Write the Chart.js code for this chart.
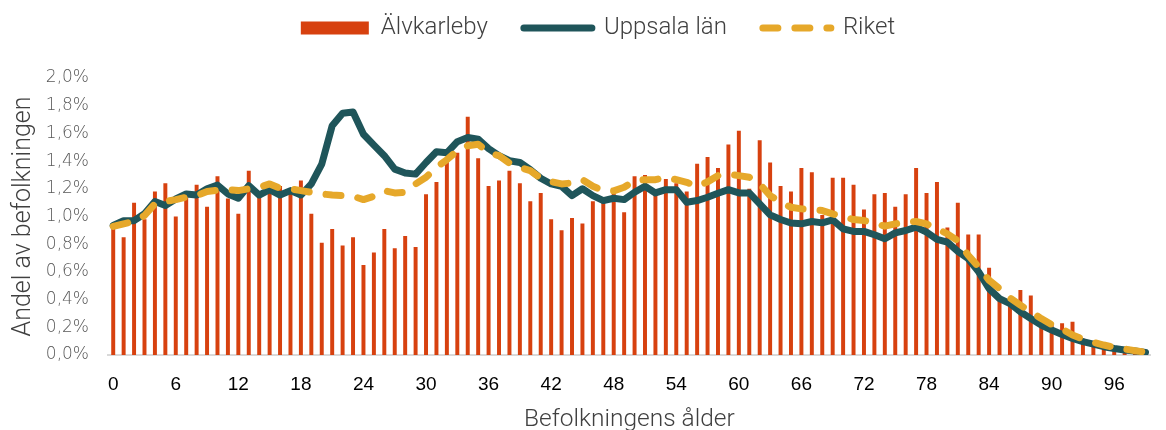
<!DOCTYPE html>
<html>
<head>
<meta charset="utf-8">
<script src="https://cdn.jsdelivr.net/npm/chart.js@4"></script>
<style>
  html, body { margin: 0; padding: 0; background: #ffffff; overflow: hidden; }
  #wrap { width: 1166px; height: 430px; }
</style>
</head>
<body>
<div id="wrap"><canvas id="c" width="1166" height="430"></canvas></div>
<script>
// Ages 0..99
const ages = Array.from({length: 100}, (_, i) => String(i));

// Älvkarleby – share of population (%) per age
const alvkarleby = [
  0.92, 0.85, 1.10, 0.98, 1.18, 1.24, 1.00, 1.14, 1.23, 1.07,
  1.29, 1.13, 1.02, 1.33, 1.18, 1.18, 1.22, 1.18, 1.26, 1.02,
  0.81, 0.91, 0.79, 0.85, 0.65, 0.74, 0.91, 0.77, 0.86, 0.78,
  1.16, 1.25, 1.43, 1.46, 1.72, 1.42, 1.22, 1.26, 1.33, 1.24,
  1.11, 1.17, 0.98, 0.90, 0.99, 0.95, 1.11, 1.11, 1.18, 1.03,
  1.29, 1.30, 1.16, 1.27, 1.24, 1.18, 1.38, 1.43, 1.35, 1.52,
  1.62, 1.20, 1.55, 1.39, 1.22, 1.18, 1.35, 1.32, 1.01, 1.28,
  1.28, 1.23, 1.05, 1.16, 1.17, 1.07, 1.16, 1.35, 1.17, 1.25,
  0.92, 1.10, 0.87, 0.87, 0.63, 0.42, 0.37, 0.47, 0.43, 0.28,
  0.22, 0.23, 0.24, 0.12, 0.06, 0.05, 0.04, 0.02, 0.01, 0.01
];

// Uppsala län
const uppsala = [
  0.935, 0.97, 0.97, 1.02, 1.108, 1.08, 1.127, 1.163, 1.155, 1.20,
  1.227, 1.163, 1.132, 1.223, 1.155, 1.194, 1.155, 1.187, 1.155, 1.235,
  1.378, 1.655, 1.745, 1.755, 1.594, 1.515, 1.439, 1.342, 1.314, 1.306,
  1.39, 1.467, 1.46, 1.54, 1.57, 1.558, 1.49, 1.44, 1.403, 1.39,
  1.338, 1.276, 1.235, 1.218, 1.151, 1.20, 1.151, 1.115, 1.132, 1.122,
  1.175, 1.218, 1.17, 1.194, 1.194, 1.103, 1.115, 1.139, 1.168, 1.194,
  1.17, 1.17, 1.091, 1.012, 0.978, 0.953, 0.947, 0.964, 0.954, 0.976,
  0.911, 0.892, 0.892, 0.868, 0.839, 0.882, 0.899, 0.923, 0.887, 0.835,
  0.815, 0.748, 0.695, 0.60, 0.479, 0.407, 0.371, 0.312, 0.263, 0.216,
  0.18, 0.148, 0.12, 0.096, 0.079, 0.06, 0.047, 0.036, 0.029, 0.019
];

// Riket
const riket = [
  0.928, 0.947, 0.964, 1.007, 1.091, 1.108, 1.122, 1.139, 1.151, 1.18,
  1.19, 1.194, 1.187, 1.20, 1.211, 1.235, 1.204, 1.20, 1.187, 1.175,
  1.163, 1.155, 1.151, 1.146, 1.122, 1.146, 1.187, 1.17, 1.175, 1.235,
  1.283, 1.355, 1.41, 1.475, 1.511, 1.522, 1.462, 1.439, 1.386, 1.355,
  1.331, 1.276, 1.252, 1.235, 1.242, 1.266, 1.218, 1.187, 1.185, 1.211,
  1.259, 1.266, 1.266, 1.283, 1.266, 1.247, 1.218, 1.25, 1.295, 1.306,
  1.295, 1.283, 1.235, 1.151, 1.103, 1.067, 1.055, 1.05, 1.043, 1.019,
  1.00, 0.978, 0.971, 0.95, 0.93, 0.947, 0.96, 0.964, 0.947, 0.91,
  0.875, 0.825, 0.72, 0.635, 0.54, 0.479, 0.412, 0.36, 0.312, 0.263,
  0.22, 0.187, 0.144, 0.115, 0.091, 0.072, 0.055, 0.043, 0.031, 0.02
];

// y tick values (percent)
const yTicks = [0, 0.2, 0.4, 0.6, 0.8, 1.0, 1.2, 1.4, 1.6, 1.8, 2.0];
const xTickEvery = 6;

const textFont = "Roboto, 'Open Sans', sans-serif";
const tickFont = "'DejaVu Sans', sans-serif";

const legendTweak = {
  id: 'legendTweak',
  beforeInit(chart) {
    const lg = chart.legend;
    if (!lg) return;
    const origFit = lg.fit;
    lg.fit = function () { origFit.call(this); this.height += 28; };
  },
  afterLayout(chart) {
    const lg = chart.legend;
    if (!lg) return;
    lg.left += 15;
    lg.right += 15;
  }
};

new Chart(document.getElementById('c'), {
  plugins: [legendTweak],
  data: {
    labels: ages,
    datasets: [
      {
        type: 'bar',
        label: 'Älvkarleby',
        data: alvkarleby,
        backgroundColor: '#D7410F',
        borderWidth: 0,
        barPercentage: 0.38,
        categoryPercentage: 1.0,
        pointStyle: 'rect',
        order: 3
      },
      {
        type: 'line',
        label: 'Uppsala län',
        data: uppsala,
        borderColor: '#1F555A',
        backgroundColor: '#1F555A',
        borderWidth: 7,
        borderCapStyle: 'round',
        borderJoinStyle: 'round',
        pointRadius: 0,
        pointHoverRadius: 0,
        pointStyle: 'line',
        tension: 0,
        fill: false,
        order: 2
      },
      {
        type: 'line',
        label: 'Riket',
        data: riket,
        borderColor: '#E6A82A',
        backgroundColor: '#E6A82A',
        borderWidth: 7,
        borderDash: [15, 17],
        borderCapStyle: 'round',
        borderJoinStyle: 'round',
        pointRadius: 0,
        pointHoverRadius: 0,
        pointStyle: 'line',
        tension: 0,
        fill: false,
        order: 1
      }
    ]
  },
  options: {
    responsive: false,
    devicePixelRatio: 1,
    animation: false,
    layout: { padding: { top: -20, left: 0, right: 0, bottom: -4.5 } },
    plugins: {
      tooltip: { enabled: false },
      legend: {
        position: 'top',
        align: 'center',
        labels: {
          usePointStyle: true,
          pointStyleWidth: 68,
          boxHeight: 13,
          padding: 36,
          color: '#404040',
          font: { family: textFont, size: 24, weight: 300 },
          sort: (a, b) => a.datasetIndex - b.datasetIndex,
          generateLabels: (chart) => {
            const items = Chart.defaults.plugins.legend.labels.generateLabels(chart);
            items.forEach((it) => {
              const ds = chart.data.datasets[it.datasetIndex];
              if (ds.type === 'line') {
                it.lineDash = ds.borderDash || [];
                it.lineCap = 'round';
                it.lineWidth = ds.borderWidth;
                it.strokeStyle = ds.borderColor;
              }
            });
            return items;
          }
        }
      }
    },
    scales: {
      x: {
        type: 'category',
        offset: true,
        grid: { display: false, drawTicks: false },
        border: { display: true, color: '#D9D9D9', width: 2 },
        ticks: {
          autoSkip: false,
          maxRotation: 0,
          minRotation: 0,
          padding: 20.5,
          color: '#000000',
          font: { family: "'Liberation Sans', Arial, sans-serif", size: 19, lineHeight: 1 },
          callback: function (val, idx) { return idx % xTickEvery === 0 ? ages[idx] : ''; }
        },
        title: {
          display: true,
          text: 'Befolkningens ålder',
          color: '#404040',
          font: { family: textFont, size: 24.5, weight: 300, lineHeight: 1 },
          padding: { top: -7, bottom: 2 }
        }
      },
      y: {
        min: 0,
        max: 2.0,
        afterBuildTicks: (axis) => { axis.ticks = yTicks.map(v => ({ value: v })); },
        afterFit: (axis) => { axis.width = 108; },
        grid: { display: false, drawTicks: false },
        border: { display: false },
        ticks: {
          padding: 19,
          color: '#595959',
          font: { family: tickFont, size: 17, weight: 200 },
          callback: (v) => v.toFixed(1).replace('.', ',') + '%'
        },
        title: {
          display: true,
          text: 'Andel av befolkningen',
          color: '#404040',
          font: { family: textFont, size: 25, weight: 300, lineHeight: 1.1 },
          padding: { top: 10, bottom: 0 }
        }
      }
    }
  }
});
</script>
</body>
</html>
